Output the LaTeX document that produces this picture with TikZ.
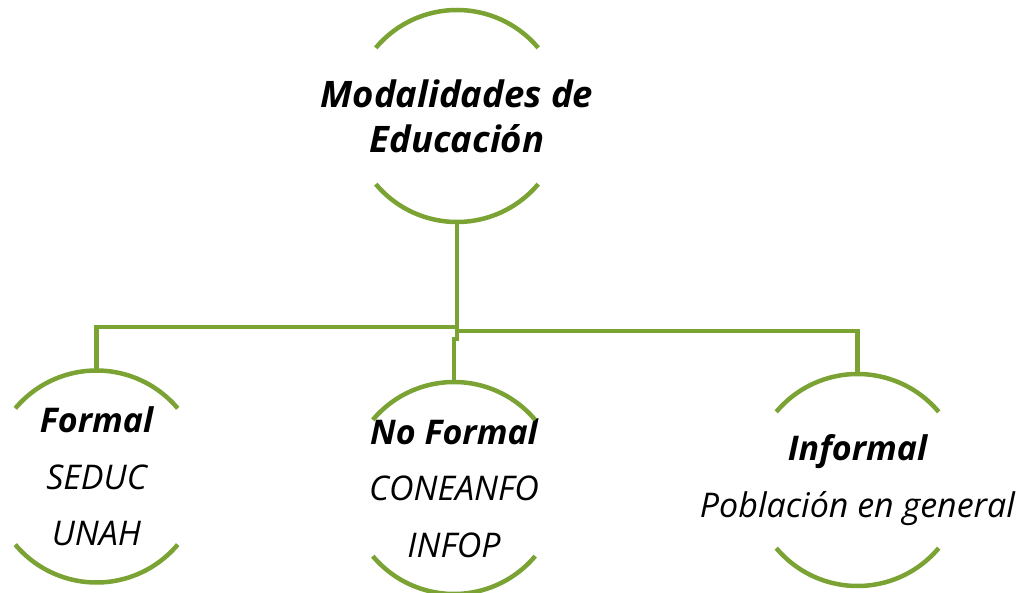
\documentclass[tikz,border=0pt]{standalone}
\usepackage{fontspec}
\setmainfont{Open Sans}
\usetikzlibrary{positioning}
\definecolor{olive}{RGB}{122,163,52}

\begin{document}
\begin{tikzpicture}[x=1pt,y=1pt,
    rim/.style={draw=olive,line width=4.5pt},
    head/.style={align=center,font=\fontsize{36.5}{45}\selectfont\bfseries\itshape},
    kind/.style={align=center,font=\fontsize{34}{56.5}\selectfont\itshape}]
	\useasboundingbox (0,0) rectangle (1020,-593);
	% nodes
	\node[head] (edu) at (457,-116) {Modalidades de\\Educación};
	\node[kind] (formal) at (96.5,-476.5) {\textbf{Formal}\\SEDUC\\UNAH};
	\node[kind] (noformal) at (454,-488) {\textbf{No Formal}\\CONEANFO\\INFOP};
	\node[kind] (informal) at (857.5,-480) {\textbf{Informal}\\Población en general};
	% arcs round each node
	\foreach \n in {edu,formal,noformal,informal} {
	  \draw[rim] (\n.center) ++(140:106) arc[start angle=140,end angle=40,radius=106];
	  \draw[rim] (\n.center) ++(220:106) arc[start angle=220,end angle=320,radius=106];
	  \coordinate (\n-t) at ([yshift=106pt]\n.center);
	  \coordinate (\n-b) at ([yshift=-106pt]\n.center);
	}
	% connectors
	\draw[rim] (edu-b) -- ++(0,-105) -| (formal-t);
	\draw[rim] (edu-b) -- ++(0,-109) -| (informal-t);
	\draw[rim] (edu-b) -- ++(0,-117) -| (noformal-t);
\end{tikzpicture}
\end{document}
